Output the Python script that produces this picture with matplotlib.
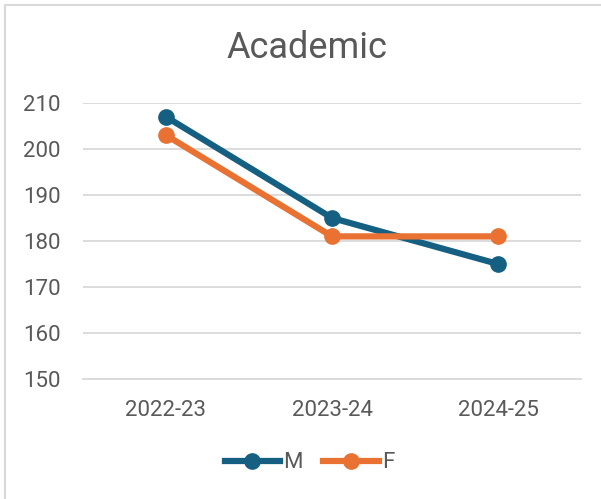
import matplotlib.pyplot as plt
from matplotlib.patches import Rectangle
from matplotlib.lines import Line2D

# data
years = ["2022-23", "2023-24", "2024-25"]
male = [207, 185, 175]
female = [203, 181, 181]
yticks = [150, 160, 170, 180, 190, 200, 210]

plt.rcParams['font.family'] = ['Roboto', 'DejaVu Sans']

fig = plt.figure(figsize=(6.01, 4.99), dpi=100)

# chart border (only left/top visible in the crop)
fig.patches.append(Rectangle((5 / 601, -0.1), 1.2, 1 - 5 / 499 + 0.1,
                             transform=fig.transFigure, fill=False,
                             edgecolor="#d9d9d9", linewidth=1.5))

ax = fig.add_axes([83 / 601, 1 - 379 / 499, 498 / 601, 276 / 499])

x = list(range(len(years)))
ax.plot(x, male, color="#156082", linewidth=4.5, marker="o",
        markersize=11, solid_capstyle="round", zorder=3, label="M")
ax.plot(x, female, color="#E97132", linewidth=4.5, marker="o",
        markersize=11, solid_capstyle="round", zorder=3, label="F")

ax.set_xlim(-0.5, 2.5)
ax.set_ylim(150, 210)
ax.set_yticks(yticks)
ax.set_xticks(x, years)
ax.yaxis.grid(True, color="#d9d9d9", linewidth=1.3)
ax.set_axisbelow(True)
for s in ax.spines.values():
    s.set_visible(False)
ax.spines['bottom'].set_visible(True)
ax.spines['bottom'].set_color("#d9d9d9")
ax.spines['bottom'].set_linewidth(1.3)
ax.tick_params(length=0, labelsize=16, colors="#595959")
ax.tick_params(axis='y', pad=16)
ax.tick_params(axis='x', pad=15)

fig.text(0.51, 1 - 48 / 499, "Academic", ha="center", va="center",
         fontsize=26, color="#595959")

handles = [Line2D([], [], color="#156082", linewidth=4.5, marker="o", markersize=11),
           Line2D([], [], color="#E97132", linewidth=4.5, marker="o", markersize=11)]
fig.legend(handles, ["M", "F"], loc="center", bbox_to_anchor=(0.515, 1 - 463 / 499),
           ncol=2, frameon=False, fontsize=16, handlelength=2.5,
           handletextpad=0.15, columnspacing=0.9, labelcolor="#595959")

fig.savefig("out.png", dpi=100)
